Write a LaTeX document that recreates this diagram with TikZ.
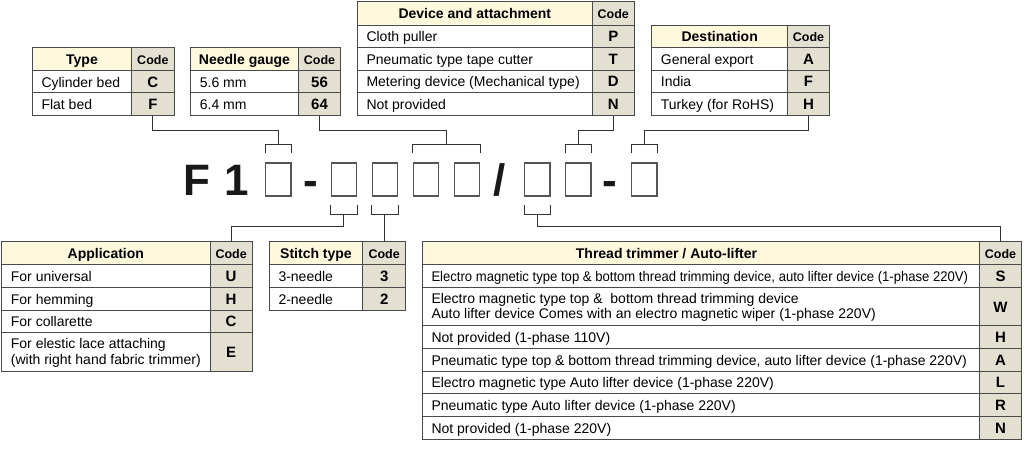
\documentclass[tikz,border=0pt]{standalone}
\usepackage{fontspec}
\usepackage{graphicx}
\setmainfont{Liberation Sans}
\usetikzlibrary{calc}
\definecolor{headfill}{HTML}{FEF9DC}
\definecolor{codefill}{HTML}{E4E0D1}
\definecolor{bordercol}{HTML}{4A4A4A}
\definecolor{linecol}{HTML}{333333}
\definecolor{boxcol}{HTML}{555555}
\newcommand\fs[1]{\fontsize{#1}{15.5}\selectfont}
% cell: name, style, x1, y1, x2, y2, text
\newcommand\mkcell[7]{%
  \pgfmathsetmacro\cellw{#5-#3}\pgfmathsetmacro\cellh{#6-#4}%
  \node[#2, minimum width=\cellw pt, minimum height=\cellh pt] (#1) at (#3,#4) {#7};}
% header row: prefix, x1, x2, x3, y1, y2, title
\newcommand\thead[7]{%
  \mkcell{#1d}{headcell}{#2}{#5}{#3}{#6}{#7}%
  \mkcell{#1c}{codehead}{#3}{#5}{#4}{#6}{Code}}
% body row: prefix, x1, x2, x3, y1, y2, description, code
\newcommand\trow[8]{%
  \mkcell{#1d}{desccell}{#2}{#5}{#3}{#6}{}%
  \mkcell{#1c}{codecell}{#3}{#5}{#4}{#6}{#8}%
  \node[desctext] (#1t) at ([xshift=9pt]#1d.west) {#7};}
\newcommand\trowtwo[8]{%
  \mkcell{#1d}{desccell}{#2}{#5}{#3}{#6}{}%
  \mkcell{#1c}{codecell}{#3}{#5}{#4}{#6}{#8}%
  \node[desctext, text depth=17.5pt] (#1t) at ([xshift=9pt]#1d.west) {#7};}
\newcommand\topbr[2]{\draw[conn] ([yshift=9.6pt]#1.north west) -- ([yshift=17.6pt]#1.north west) -- ([yshift=17.6pt]#2.north east) -- ([yshift=9.6pt]#2.north east);}
\newcommand\botbr[2]{\draw[conn] ([yshift=-8.7pt]#1.south west) -- ([yshift=-18pt]#1.south west) -- ([yshift=-18pt]#2.south east) -- ([yshift=-8.7pt]#2.south east);}
\begin{document}
\begin{tikzpicture}[x=1pt, y=-1pt,
  cellbase/.style={draw=bordercol, line width=0.9pt, anchor=north west, inner sep=0pt, outer sep=0pt, text height=11pt, text depth=0pt},
  headcell/.style={cellbase, fill=headfill, font=\fs{14}\bfseries},
  codehead/.style={cellbase, fill=codefill, font=\fs{12.5}\bfseries},
  desccell/.style={cellbase, fill=white},
  codecell/.style={cellbase, fill=codefill, font=\fs{15}\bfseries},
  desctext/.style={anchor=west, inner sep=0pt, font=\fs{14}, text height=11pt, text depth=0pt},
  codebox/.style={draw=boxcol, line width=1.2pt, minimum width=25.3pt, minimum height=33pt, anchor=north west, inner sep=0pt},
  bigtxt/.style={font=\fontsize{44}{44}\selectfont\bfseries, inner sep=0pt, anchor=base, text=black!90},
  conn/.style={draw=linecol, line width=1pt}]
\useasboundingbox (0,0) rectangle (1032,452);
\fill[white] (0,0) rectangle (1032,452);

% ---------- Type
\thead{typeH}{32.3}{131.7}{174}{47.3}{70.7}{Type}
\trow{typeA}{32.3}{131.7}{174}{70.7}{92.7}{Cylinder bed}{C}
\trow{typeB}{32.3}{131.7}{174}{92.7}{115.7}{Flat bed}{F}
% ---------- Needle gauge
\thead{ngH}{190.7}{298.3}{340.7}{47.3}{70.7}{Needle gauge}
\trow{ngA}{190.7}{298.3}{340.7}{70.7}{92.7}{5.6 mm}{56}
\trow{ngB}{190.7}{298.3}{340.7}{92.7}{115.7}{6.4 mm}{64}
% ---------- Device and attachment
\thead{devH}{357.3}{592.3}{634.3}{1.7}{25}{Device and attachment}
\trow{devA}{357.3}{592.3}{634.3}{25}{47.3}{Cloth puller}{P}
\trow{devB}{357.3}{592.3}{634.3}{47.3}{70}{Pneumatic type tape cutter}{T}
\trow{devC}{357.3}{592.3}{634.3}{70}{92.7}{Metering device (Mechanical type)}{D}
\trow{devD}{357.3}{592.3}{634.3}{92.7}{115.7}{Not provided}{N}
% ---------- Destination
\thead{dstH}{651.7}{787.7}{829.3}{25}{47.3}{Destination}
\trow{dstA}{651.7}{787.7}{829.3}{47.3}{70}{General export}{A}
\trow{dstB}{651.7}{787.7}{829.3}{70}{92.7}{India}{F}
\trow{dstC}{651.7}{787.7}{829.3}{92.7}{115.7}{Turkey\hspace{4pt}(for RoHS)}{H}
% ---------- Application
\thead{appH}{1.7}{210}{252.3}{241.7}{264.3}{Application}
\trow{appA}{1.7}{210}{252.3}{264.3}{287.3}{For universal}{U}
\trow{appB}{1.7}{210}{252.3}{287.3}{310}{For hemming}{H}
\trow{appC}{1.7}{210}{252.3}{310}{332.7}{For collarette}{C}
\trowtwo{appD}{1.7}{210}{252.3}{332.7}{371.7}{\begin{tabular}[t]{@{}l@{}}For elestic lace attaching\\(with right hand fabric trimmer)\end{tabular}}{E}
% ---------- Stitch type
\thead{stH}{269.3}{362.7}{405.7}{241.7}{264.3}{Stitch type}
\trow{stA}{269.3}{362.7}{405.7}{264.3}{287.3}{3-needle}{3}
\trow{stB}{269.3}{362.7}{405.7}{287.3}{310}{2-needle}{2}
% ---------- Thread trimmer / Auto-lifter
\thead{ttH}{422.3}{979.3}{1021.7}{241.7}{264.3}{}
\node[anchor=west, inner sep=0pt, font=\fs{14}\bfseries, text height=11pt, text depth=0pt] (ttTitle) at ([xshift=153.4pt]ttHd.west) {Thread trimmer / Auto-lifter};
\trow{ttA}{422.3}{979.3}{1021.7}{264.3}{287.3}{\resizebox{536.6pt}{\height}{Electro magnetic type top \& bottom thread trimming device, auto lifter device (1-phase 220V)}}{S}
\trowtwo{ttB}{422.3}{979.3}{1021.7}{287.3}{325.7}{\begin{tabular}[t]{@{}l@{}}Electro magnetic type top \& \ bottom thread trimming device\\Auto lifter device Comes with an electro magnetic wiper (1-phase 220V)\end{tabular}}{W}
\trow{ttC}{422.3}{979.3}{1021.7}{325.7}{348.3}{Not provided (1-phase 110V)}{H}
\trow{ttD}{422.3}{979.3}{1021.7}{348.3}{371}{Pneumatic type top \& bottom thread trimming device, auto lifter device (1-phase 220V)}{A}
\trow{ttE}{422.3}{979.3}{1021.7}{371}{393.3}{Electro magnetic type Auto lifter device (1-phase 220V)}{L}
\trow{ttF}{422.3}{979.3}{1021.7}{393.3}{416}{Pneumatic type Auto lifter device (1-phase 220V)}{R}
\trow{ttG}{422.3}{979.3}{1021.7}{416}{439}{Not provided (1-phase 220V)}{N}

% ---------- Model code line
\node[bigtxt] (cF) at (196.5,195.3) {F};
\node[bigtxt] (c1) at (237,195.3) {1};
\node[codebox] (b1) at (265,162.3) {};
\node[bigtxt] (dash1) at (310.5,195.3) {-};
\node[codebox] (b2) at (330.7,162.3) {};
\node[codebox] (b3) at (371.7,162.3) {};
\node[codebox] (b4) at (412.7,162.3) {};
\node[codebox] (b5) at (453.5,162.3) {};
\node[bigtxt] (slash) at (500,195.3) {/};
\node[codebox] (b6) at (524,162.3) {};
\node[codebox] (b7) at (565,162.3) {};
\node[bigtxt] (dash2) at (610,195.3) {-};
\node[codebox] (b8) at (631,162.3) {};

% brackets
\topbr{b1}{b1}
\topbr{b4}{b5}
\topbr{b7}{b7}
\topbr{b8}{b8}
\botbr{b2}{b2}
\botbr{b3}{b3}
\botbr{b6}{b6}

\coordinate (t1) at ([yshift=17.6pt]b1.north);
\coordinate (t45) at ($([yshift=17.6pt]b4.north west)!0.5!([yshift=17.6pt]b5.north east)$);
\coordinate (t7) at ([yshift=17.6pt]b7.north);
\coordinate (t8) at ([yshift=17.6pt]b8.north);
\coordinate (u2) at ([yshift=-18pt]b2.south);
\coordinate (u3) at ([yshift=-18pt]b3.south);
\coordinate (u6) at ([yshift=-18pt]b6.south);
\coordinate (lvlT) at (0,130);
\coordinate (lvlB) at (0,226.7);

% connectors
\draw[conn] (typeBc.south) -- (typeBc.south |- lvlT) -| (t1);
\draw[conn] (ngBc.south) -- (ngBc.south |- lvlT) -| (t45);
\draw[conn] (devDc.south) -- (devDc.south |- lvlT) -| (t7);
\draw[conn] (dstCc.south) -- (dstCc.south |- lvlT) -| (t8);
\draw[conn] (u2) -- (u2 |- lvlB) -| (appHc.north);
\draw[conn] (u3) -- (u3 |- stHc.north);
\draw[conn] (u6) -- (u6 |- lvlB) -| (ttHc.north);
\end{tikzpicture}
\end{document}
